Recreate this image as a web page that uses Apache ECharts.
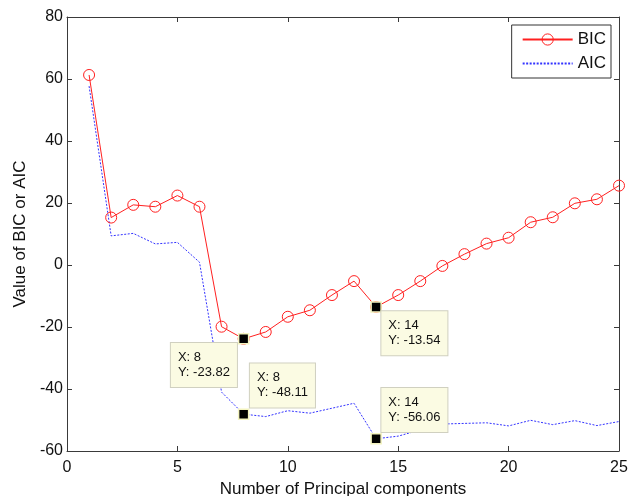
<!DOCTYPE html>
<html>
<head>
<meta charset="utf-8">
<script src="https://cdn.jsdelivr.net/npm/echarts@6/dist/echarts.min.js"></script>
<style>html,body{margin:0;padding:0;background:#fff}#c{width:630px;height:496px}</style>
</head>
<body>
<div id="c"></div>
<script>
var components = [1,2,3,4,5,6,7,8,9,10,11,12,13,14,15,16,17,18,19,20,21,22,23,24,25];
var bicValues = [61.3,15.3,19.4,18.8,22.4,18.8,-19.9,-23.82,-21.6,-16.7,-14.6,-9.7,-5.2,-13.54,-9.7,-5.2,-0.3,3.5,6.9,8.8,13.8,15.4,19.9,21.2,25.6];
var aicValues = [57.7,9.4,10.2,6.8,7.3,0.9,-41.0,-48.11,-48.9,-47.0,-47.8,-46.2,-44.6,-56.06,-55.2,-53.2,-51.3,-51.1,-50.9,-51.9,-50.1,-51.5,-50.2,-51.8,-50.5];
var xTicks = [0,5,10,15,20,25];
var yTicks = [-60,-40,-20,0,20,40,60,80];
var tips = [
  {series: 0, x: 8, y: -23.82, pos: [-67, 10]},
  {series: 1, x: 8, y: -48.11, pos: [12, -45]},
  {series: 0, x: 14, y: -13.54, pos: [11, 10]},
  {series: 1, x: 14, y: -56.06, pos: [11, -45]}
];

var font = 'Arial, "Liberation Sans", Helvetica, sans-serif';
var axisColor = '#3a3a3a';

function pairs(vals) { return components.map(function (c, i) { return [c, vals[i]]; }); }
function tipPoints(s) {
  return tips.filter(function (t) { return t.series === s; }).map(function (t) {
    return {
      coord: [t.x, t.y],
      label: {
        show: true,
        position: t.pos,
        align: 'left',
        verticalAlign: 'top',
        formatter: 'X: ' + t.x + '\nY: ' + t.y.toFixed(2),
        fontFamily: font, fontSize: 13, lineHeight: 15, color: '#111',
        backgroundColor: '#fbfbe3', borderColor: '#d0d0c0', borderWidth: 1,
        padding: [7, 7, 7, 7]
      }
    };
  });
}
var tipMark = function (s) {
  return {
    symbol: 'rect', symbolSize: 10, silent: true,
    itemStyle: {color: '#000', borderColor: '#f4f4c0', borderWidth: 1.5},
    data: tipPoints(s)
  };
};

var chart = echarts.init(document.getElementById('c'), null, {renderer: 'canvas'});
var baseX = {
  type: 'value', min: xTicks[0], max: xTicks[xTicks.length - 1], interval: 5,
  axisLine: {show: true, onZero: false, lineStyle: {color: axisColor, width: 1}},
  axisTick: {show: true, inside: true, length: 5, lineStyle: {color: axisColor}},
  splitLine: {show: false}
};
var baseY = {
  type: 'value', min: yTicks[0], max: yTicks[yTicks.length - 1], interval: 20,
  axisLine: {show: true, onZero: false, lineStyle: {color: axisColor, width: 1}},
  axisTick: {show: true, inside: true, length: 5, lineStyle: {color: axisColor}},
  splitLine: {show: false}
};
chart.setOption({
  animation: false,
  backgroundColor: '#fff',
  grid: {left: 67, right: 11, top: 17, bottom: 45, containLabel: false, outerBoundsMode: 'none'},
  legend: {
    data: [
      {name: 'BIC', itemStyle: {color: 'rgba(255,255,255,0)', borderColor: '#ff2020', borderWidth: 1}},
      {name: 'AIC', itemStyle: {color: 'rgba(0,0,0,0)', borderColor: 'rgba(0,0,0,0)', borderWidth: 0}}
    ],
    orient: 'vertical', right: 19, top: 25,
    itemWidth: 50, itemHeight: 14, itemGap: 7,
    padding: [6, 5, 6, 10],
    borderColor: '#333', borderWidth: 1, backgroundColor: '#fff',
    textStyle: {fontFamily: font, fontSize: 17, color: '#111'}
  },
  xAxis: [
    Object.assign({}, baseX, {
      position: 'bottom',
      name: 'Number of Principal components', nameLocation: 'middle', nameGap: 28,
      nameTextStyle: {fontFamily: font, fontSize: 17, color: '#111'},
      axisLabel: {show: true, margin: 9, fontFamily: font, fontSize: 16, color: '#111'}
    }),
    Object.assign({}, baseX, {position: 'top', axisLabel: {show: false}})
  ],
  yAxis: [
    Object.assign({}, baseY, {
      position: 'left',
      name: 'Value of BIC or AIC', nameLocation: 'middle', nameGap: 36, nameRotate: 90,
      nameTextStyle: {fontFamily: font, fontSize: 17, color: '#111'},
      axisLabel: {show: true, margin: 4, fontFamily: font, fontSize: 16, color: '#111'}
    }),
    Object.assign({}, baseY, {position: 'right', axisLabel: {show: false}})
  ],
  series: [
    {
      name: 'BIC', type: 'line', data: pairs(bicValues),
      symbol: 'circle', symbolSize: 11, showSymbol: true,
      lineStyle: {color: '#ff2020', width: 1},
      itemStyle: {color: 'rgba(255,255,255,0)', borderColor: '#ff2020', borderWidth: 1},
      emphasis: {disabled: true},
      markPoint: tipMark(0),
      z: 3
    },
    {
      name: 'AIC', type: 'line', data: pairs(aicValues),
      symbol: 'none', showSymbol: false,
      lineStyle: {color: '#3333ff', width: 1, type: [2, 1.5]},
      itemStyle: {color: '#3333ff'},
      emphasis: {disabled: true},
      markPoint: tipMark(1),
      z: 2
    }
  ]
});
</script>
</body>
</html>
